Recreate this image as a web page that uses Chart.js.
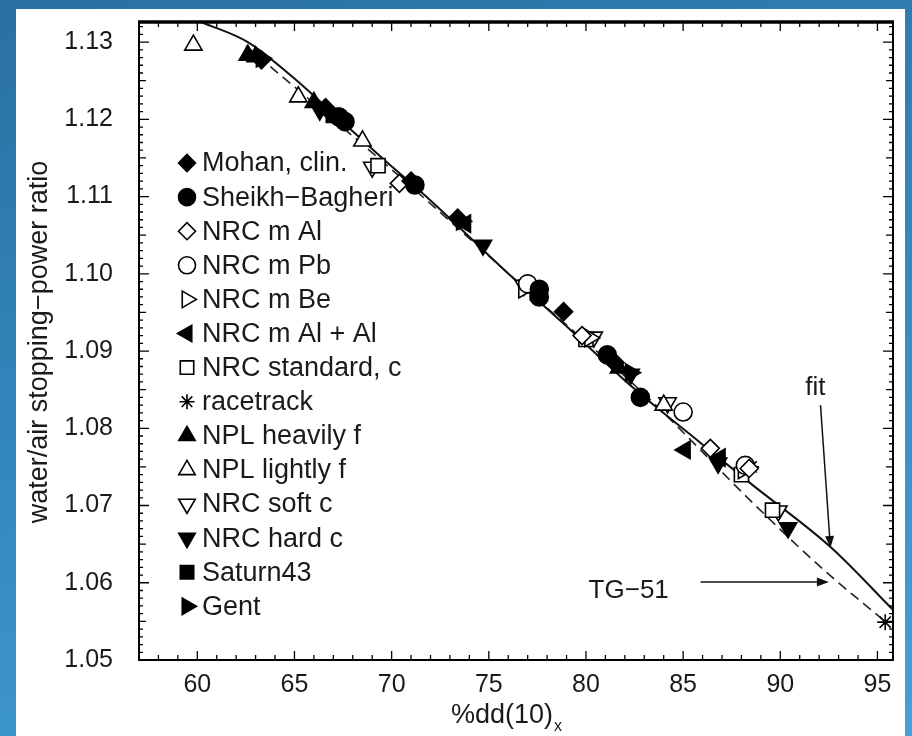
<!DOCTYPE html>
<html><head><meta charset="utf-8">
<script src="https://cdn.jsdelivr.net/npm/chart.js@4.4.0/dist/chart.umd.min.js"></script>
<style>
html,body{margin:0;padding:0;width:912px;height:736px;overflow:hidden;background:linear-gradient(165deg,#2a70a2 0%,#3386bd 45%,#45a1da 100%);}
#panel{position:absolute;left:16px;top:9px;width:889px;height:727px;background:#fff;}
#wrap{position:absolute;left:0;top:0;width:912px;height:736px;}
</style></head><body>
<div id="panel"></div>
<div id="wrap"><canvas id="c" width="912" height="736"></canvas></div>
<script>
// ---- data (x = %dd(10)x, y = water/air stopping-power ratio) ----
const xTickValues = [60, 65, 70, 75, 80, 85, 90, 95];
const yTickValues = [1.05, 1.06, 1.07, 1.08, 1.09, 1.10, 1.11, 1.12, 1.13];

const mohan      = [[63.3,1.1277],[66.6,1.1215],[71.0,1.1120],[73.4,1.1072],[78.85,1.0951],[81.5,1.0885]];
const sheikh     = [[67.3,1.1203],[67.6,1.1197],[71.2,1.1115],[77.6,1.0980],[77.6,1.0970],[81.1,1.0895],[82.8,1.0840]];
const nrcMAl     = [[70.4,1.1117],[79.8,1.0920],[86.4,1.0774],[88.4,1.0748]];
const nrcMPb     = [[77.0,1.0987],[85.0,1.0821],[88.2,1.0752]];
const nrcMBe     = [[76.8,1.0980],[80.2,1.0917],[88.1,1.0746]];
const nrcMAlAl   = [[73.8,1.1065],[85.1,1.0772],[86.9,1.0762]];
const nrcStd     = [[69.3,1.1140],[80.0,1.0915],[88.0,1.0740],[89.6,1.0694]];
const racetrack  = [[88.5,1.0750],[95.4,1.0549]];
const nplHeavy   = [[62.6,1.1283],[63.0,1.1281],[66.0,1.1222],[81.7,1.0878]];
const nplLight   = [[59.8,1.1296],[65.2,1.1229],[68.5,1.1172],[84.0,1.0830]];
const nrcSoft    = [[69.0,1.1138],[76.8,1.0985],[80.4,1.0918],[84.2,1.0833],[89.9,1.0693]];
const nrcHard    = [[66.3,1.1212],[74.7,1.1037],[82.3,1.0870],[86.8,1.0755],[90.4,1.0671]];
const saturn43   = [[67.0,1.1205],[77.5,1.0975]];
const gent       = [[63.3,1.1279],[73.6,1.1068],[82.3,1.0872]];

const fitX = [60.2, 62.6, 64.8, 67.5, 69.6, 72.0, 76.1, 79.0, 82.4, 85.9, 88.5, 92.6, 95.8];
const fitY = [1.1326, 1.1300, 1.1257, 1.1196, 1.1148, 1.1095, 1.0998, 1.0932, 1.0853, 1.0781, 1.0728, 1.0646, 1.0565];
const tgX  = [62.5, 70.0, 77.0, 83.3, 88.6, 92.4, 95.3];
const tgY  = [1.1295, 1.1135, 1.0978, 1.0837, 1.0703, 1.0613, 1.0552];

// annotation anchors in data units
const fitLabel = {text: 'fit', x: 91.8, y: 1.0852};
const fitArrow = {x1: 92.07, y1: 1.0830, x2: 92.58, y2: 1.0645};
const tgLabel  = {text: 'TG\u221251', x: 82.2, y: 1.0590};
const tgArrow  = {x1: 85.9, y1: 1.0601, x2: 92.5, y2: 1.0601};

const FONT = '"Liberation Sans", Arial, sans-serif';
const INK = '#1a1a1a';

function pts(a){ return a.map(p => ({x: p[0], y: p[1]})); }
function mk(label, arr, style, rot, filled, r){
  return {label, data: pts(arr), pointStyle: style, rotation: rot,
    pointRadius: r, pointHoverRadius: r,
    backgroundColor: filled ? '#000' : '#fff', borderColor: '#000',
    pointBorderWidth: 1.6, borderWidth: 1.6, showLine: false, order: 1};
}
const markerSets = [
  mk('Mohan, clin.', mohan, 'rectRot', 0, true, 9),
  mk('Sheikh\u2212Bagheri', sheikh, 'circle', 0, true, 9),
  mk('NRC m Al', nrcMAl, 'rectRot', 0, false, 9),
  mk('NRC m Pb', nrcMPb, 'circle', 0, false, 9),
  mk('NRC m Be', nrcMBe, 'triangle', 90, false, 10),
  mk('NRC m Al + Al', nrcMAlAl, 'triangle', 270, true, 10),
  mk('NRC standard, c', nrcStd, 'rect', 0, false, 10),
  mk('racetrack', racetrack, 'star', 0, false, 8),
  mk('NPL heavily f', nplHeavy, 'triangle', 0, true, 10),
  mk('NPL lightly f', nplLight, 'triangle', 0, false, 10),
  mk('NRC soft c', nrcSoft, 'triangle', 180, false, 10),
  mk('NRC hard c', nrcHard, 'triangle', 180, true, 10),
  mk('Saturn43', saturn43, 'rect', 0, true, 10),
  mk('Gent', gent, 'triangle', 90, true, 10)
];
const lineSets = [
  {type: 'line', label: 'fit', data: fitX.map((x,i)=>({x, y: fitY[i]})), borderColor: '#111', borderWidth: 2,
   pointRadius: 0, tension: 0.4, cubicInterpolationMode: 'monotone', showLine: true, fill: false, order: 2},
  {type: 'line', label: 'TG-51', data: tgX.map((x,i)=>({x, y: tgY[i]})), borderColor: '#222', borderWidth: 1.6,
   borderDash: [10, 6], pointRadius: 0, tension: 0.4, cubicInterpolationMode: 'monotone', showLine: true, fill: false, order: 3}
];

const decor = {
  id: 'decor',
  afterDraw(chart){
    const ctx = chart.ctx, ca = chart.chartArea, xs = chart.scales.x, ys = chart.scales.y;
    ctx.save();
    // frame
    ctx.strokeStyle = '#000'; ctx.lineWidth = 2;
    ctx.strokeRect(ca.left, ca.top, ca.right - ca.left, ca.bottom - ca.top);
    ctx.lineWidth = 3.5;
    ctx.beginPath(); ctx.moveTo(ca.left - 1, ca.top); ctx.lineTo(ca.right + 1, ca.top); ctx.stroke();
    // x ticks (inward, bottom & top)
    ctx.lineWidth = 1.3;
    for (let v = Math.ceil(xs.min); v <= xs.max; v++) {
      const px = xs.getPixelForValue(v);
      const len = v % 5 === 0 ? 9 : 5;
      ctx.beginPath();
      ctx.moveTo(px, ca.bottom); ctx.lineTo(px, ca.bottom - len);
      ctx.moveTo(px, ca.top); ctx.lineTo(px, ca.top + len);
      ctx.stroke();
    }
    // y ticks (inward, left & right)
    for (let k = 0; ; k++) {
      const v = 1.05 + k * 0.001;
      if (v > ys.max + 1e-9) break;
      const py = ys.getPixelForValue(v);
      const len = k % 10 === 0 ? 10 : (k % 5 === 0 ? 7 : 4);
      ctx.beginPath();
      ctx.moveTo(ca.left, py); ctx.lineTo(ca.left + len, py);
      ctx.moveTo(ca.right, py); ctx.lineTo(ca.right - len, py);
      ctx.stroke();
    }
    // axis titles
    ctx.fillStyle = INK;
    ctx.font = '27px ' + FONT;
    ctx.textAlign = 'center'; ctx.textBaseline = 'middle';
    ctx.save();
    ctx.translate(40, 342); ctx.rotate(-Math.PI / 2);
    ctx.fillText('water/air stopping\u2212power ratio', 0, 0);
    ctx.restore();
    const main = '%dd(10)';
    ctx.font = '27px ' + FONT;
    const w1 = ctx.measureText(main).width;
    ctx.font = '16px ' + FONT;
    const w2 = ctx.measureText('x').width;
    const x0 = 506 - (w1 + w2) / 2;
    ctx.textAlign = 'left'; ctx.textBaseline = 'alphabetic';
    ctx.font = '27px ' + FONT; ctx.fillText(main, x0, 723);
    ctx.font = '16px ' + FONT; ctx.fillText('x', x0 + w1 + 1, 731);
    // legend
    ctx.font = '27px ' + FONT; ctx.textAlign = 'left'; ctx.textBaseline = 'middle';
    markerSets.forEach((ds, i) => {
      const y = 163 + i * 34.1;
      ctx.fillStyle = ds.backgroundColor; ctx.strokeStyle = '#000'; ctx.lineWidth = 1.6;
      Chart.helpers.drawPoint(ctx, {pointStyle: ds.pointStyle, rotation: ds.rotation, radius: ds.pointRadius - 0.5, borderWidth: 1.6}, 187, y);
      ctx.fillStyle = INK;
      ctx.fillText(ds.label, 202, y + 1);
    });
    // annotations
    ctx.font = '26px ' + FONT; ctx.textAlign = 'center'; ctx.textBaseline = 'middle';
    ctx.fillText(fitLabel.text, xs.getPixelForValue(fitLabel.x), ys.getPixelForValue(fitLabel.y));
    ctx.fillText(tgLabel.text, xs.getPixelForValue(tgLabel.x), ys.getPixelForValue(tgLabel.y));
    const arrow = (a) => {
      const x1 = xs.getPixelForValue(a.x1), y1 = ys.getPixelForValue(a.y1);
      const x2 = xs.getPixelForValue(a.x2), y2 = ys.getPixelForValue(a.y2);
      const ang = Math.atan2(y2 - y1, x2 - x1), hl = 12, hw = 4.5;
      ctx.strokeStyle = '#111'; ctx.lineWidth = 1.5;
      ctx.beginPath(); ctx.moveTo(x1, y1);
      ctx.lineTo(x2 - hl * Math.cos(ang), y2 - hl * Math.sin(ang)); ctx.stroke();
      ctx.fillStyle = '#111';
      ctx.beginPath(); ctx.moveTo(x2, y2);
      ctx.lineTo(x2 - hl * Math.cos(ang) + hw * Math.sin(ang), y2 - hl * Math.sin(ang) - hw * Math.cos(ang));
      ctx.lineTo(x2 - hl * Math.cos(ang) - hw * Math.sin(ang), y2 - hl * Math.sin(ang) + hw * Math.cos(ang));
      ctx.closePath(); ctx.fill();
    };
    arrow(fitArrow); arrow(tgArrow);
    ctx.restore();
  }
};

new Chart(document.getElementById('c'), {
  type: 'scatter',
  data: {datasets: [...markerSets, ...lineSets]},
  options: {
    responsive: false, animation: false, devicePixelRatio: 1,
    layout: {padding: {left: 0, top: 22, right: 19, bottom: 0}},
    plugins: {legend: {display: false}, tooltip: {enabled: false}},
    scales: {
      x: {type: 'linear', min: 57, max: 95.8,
        afterBuildTicks: s => { s.ticks = xTickValues.map(v => ({value: v})); },
        afterFit: s => { s.height = 76; s.paddingLeft = 0; s.paddingRight = 0; },
        grid: {display: false, drawTicks: false}, border: {display: false},
        ticks: {padding: 10, color: INK, font: {family: FONT, size: 25}, callback: v => String(v)}},
      y: {type: 'linear', min: 1.05, max: 1.1326,
        afterBuildTicks: s => { s.ticks = yTickValues.map(v => ({value: v})); },
        afterFit: s => { s.width = 139; s.paddingTop = 0; s.paddingBottom = 0; },
        grid: {display: false, drawTicks: false}, border: {display: false},
        ticks: {padding: 26, color: INK, font: {family: FONT, size: 25}, callback: v => Number(v).toFixed(2)}}
    }
  },
  plugins: [decor]
});
</script>
</body></html>
